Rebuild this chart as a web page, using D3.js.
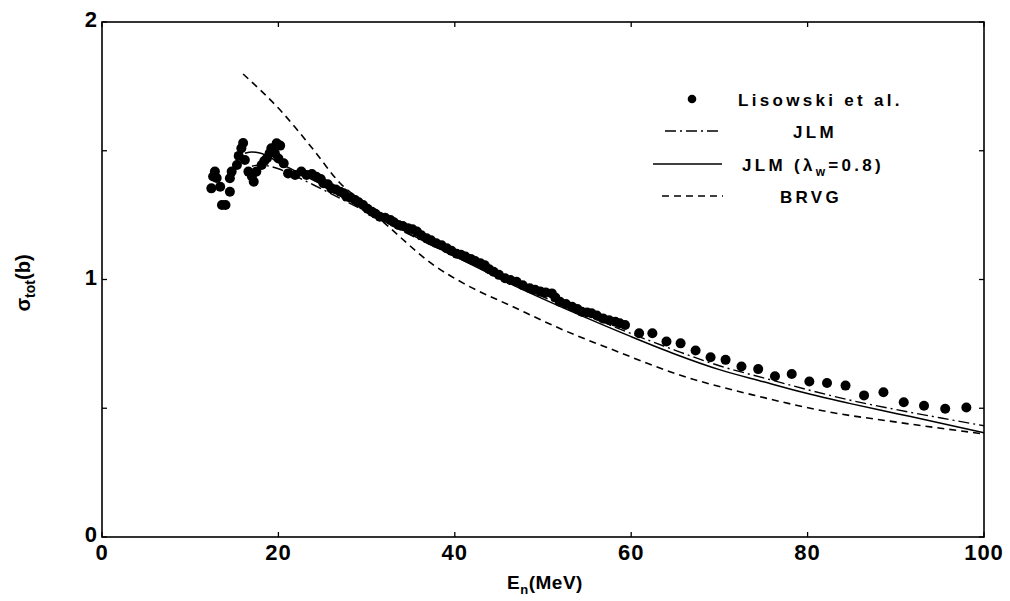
<!DOCTYPE html>
<html>
<head>
<meta charset="utf-8">
<script src="https://cdn.jsdelivr.net/npm/d3@7/dist/d3.min.js"></script>
<style>
  html, body { margin: 0; padding: 0; background: #fff; }
  svg { display: block; }
  text { font-family: "Liberation Sans", Arial, Helvetica, sans-serif; font-weight: bold; fill: #000; }
</style>
</head>
<body>
<svg id="chart" width="1010" height="601"></svg>
<script>
// ---- Data ----
const xTicks = [0, 20, 40, 60, 80, 100];
const yTicks = [0, 0.5, 1, 1.5, 2];
const yTickLabels = ["0", "", "1", "", "2"];

// Lisowski et al. data: energy (MeV), cross section (b)
const lisE = [12.4, 12.6, 12.8, 13.0, 13.4, 13.6, 14.0, 14.5, 14.5, 14.7, 15.3, 15.5, 15.8, 16.0, 16.2, 16.6, 17.0, 17.2, 17.5, 18.1, 18.4, 18.7, 19.0, 19.2, 19.6, 19.8, 20.0, 20.2, 20.6, 21.1,
  21.9, 22.6, 23.2, 23.8, 24.3, 24.8, 25.1, 25.6, 26.0, 26.5, 27.0, 27.4, 27.7, 28.2, 28.7, 29.1, 29.6, 30.1, 30.6, 31.0,
  31.5, 32.1, 32.7, 33.1, 33.6, 34.1, 34.7, 35.2, 35.7, 36.2, 36.8, 37.3, 37.9, 38.5, 39.1, 39.6, 40.2, 40.7, 41.2, 41.8,
  42.3, 42.9, 43.4, 43.9, 44.4, 45.0, 45.7, 46.3, 47.0, 47.7, 48.5, 49.1, 49.7, 50.3, 51.0, 51.4, 51.9, 52.6, 53.3, 53.9,
  54.4, 55.0, 55.5, 56.1, 56.8, 57.5, 58.2, 58.7, 59.3,
  60.9, 62.4, 64.0, 65.6, 67.3, 69.0, 70.7, 72.5, 74.4, 76.3, 78.2, 80.2, 82.2, 84.3, 86.4, 88.6, 90.9, 93.2, 95.6, 98.0];
const lisS = [1.354, 1.40, 1.419, 1.394, 1.360, 1.289, 1.289, 1.341, 1.393, 1.419, 1.445, 1.48, 1.510, 1.53, 1.464, 1.419, 1.40, 1.380, 1.419, 1.445, 1.46, 1.471, 1.49, 1.510, 1.490, 1.529, 1.47, 1.52, 1.451, 1.412,
  1.406, 1.419, 1.406, 1.41, 1.399, 1.39, 1.374, 1.37, 1.354, 1.35, 1.341, 1.335, 1.322, 1.318, 1.309, 1.30, 1.289, 1.275, 1.263, 1.255,
  1.244, 1.240, 1.231, 1.222, 1.212, 1.208, 1.199, 1.195, 1.186, 1.172, 1.160, 1.152, 1.141, 1.133, 1.121, 1.112, 1.100, 1.096, 1.089, 1.080,
  1.072, 1.063, 1.055, 1.040, 1.030, 1.018, 1.005, 0.998, 0.991, 0.978, 0.966, 0.960, 0.953, 0.950, 0.946, 0.930, 0.914, 0.905, 0.894, 0.885,
  0.875, 0.872, 0.869, 0.860, 0.849, 0.842, 0.836, 0.830, 0.823,
  0.791, 0.791, 0.759, 0.752, 0.724, 0.698, 0.688, 0.662, 0.652, 0.624, 0.633, 0.604, 0.598, 0.588, 0.550, 0.562, 0.523, 0.510, 0.498, 0.503];

// JLM (dash-dot)
const jlmE = [17, 18, 19, 20, 22, 24, 26, 28, 30, 35, 40, 45, 50, 55, 60, 65, 70, 75, 80, 85, 90, 95, 100];
const jlmS = [1.44, 1.445, 1.44, 1.43, 1.40, 1.367, 1.333, 1.298, 1.262, 1.172, 1.09, 1.01, 0.933, 0.86, 0.79, 0.725, 0.665, 0.618, 0.572, 0.53, 0.495, 0.463, 0.432];

// JLM (lambda_w = 0.8) (solid)
const jlm08E = [16.2, 17, 18, 19, 20, 22, 24, 26, 28, 30, 32, 35, 40, 45, 50, 55, 60, 65, 70, 75, 80, 85, 90, 95, 100];
const jlm08S = [1.49, 1.495, 1.49, 1.475, 1.455, 1.42, 1.385, 1.35, 1.31, 1.27, 1.232, 1.175, 1.09, 1.005, 0.925, 0.85, 0.778, 0.71, 0.65, 0.603, 0.557, 0.517, 0.48, 0.443, 0.405];

// BRVG (dashed)
const brvgE = [16.0, 20.2, 24.0, 27.0, 28.5, 32.5, 37.6, 41.0, 46.6, 52.3, 58.0, 65.5, 74.6, 82.2, 89.7, 100];
const brvgS = [1.798, 1.658, 1.503, 1.374, 1.328, 1.205, 1.056, 0.985, 0.894, 0.804, 0.726, 0.629, 0.545, 0.487, 0.448, 0.400];

// ---- Chart ----
const svg = d3.select("#chart");
const x = d3.scaleLinear().domain([0, 100]).range([102, 984]);
const y = d3.scaleLinear().domain([0, 2]).range([537, 22]);

// frame
svg.append("rect")
  .attr("x", x(0)).attr("y", y(2))
  .attr("width", x(100) - x(0)).attr("height", y(0) - y(2))
  .attr("fill", "none").attr("stroke", "#000").attr("stroke-width", 1.6);

// ticks (inward) on all sides
const tl = 5;
xTicks.forEach(t => {
  svg.append("line").attr("x1", x(t)).attr("x2", x(t)).attr("y1", y(0)).attr("y2", y(0) - tl)
    .attr("stroke", "#000").attr("stroke-width", 1.3);
  svg.append("line").attr("x1", x(t)).attr("x2", x(t)).attr("y1", y(2)).attr("y2", y(2) + tl)
    .attr("stroke", "#000").attr("stroke-width", 1.3);
});
yTicks.forEach(t => {
  svg.append("line").attr("x1", x(0)).attr("x2", x(0) + tl).attr("y1", y(t)).attr("y2", y(t))
    .attr("stroke", "#000").attr("stroke-width", 1.3);
  svg.append("line").attr("x1", x(100)).attr("x2", x(100) - tl).attr("y1", y(t)).attr("y2", y(t))
    .attr("stroke", "#000").attr("stroke-width", 1.3);
});

// tick labels
svg.selectAll(".xtl").data(xTicks).enter().append("text")
  .attr("x", d => x(d)).attr("y", 560)
  .attr("text-anchor", "middle").attr("font-size", 22).attr("letter-spacing", 1)
  .text(d => d);
svg.selectAll(".ytl").data(yTicks).enter().append("text")
  .attr("x", 97).attr("y", d => y(d) + 5)
  .attr("text-anchor", "end").attr("font-size", 22)
  .text((d, i) => yTickLabels[i]);

// axis titles
const xt = svg.append("text").attr("x", 545).attr("y", 589).attr("text-anchor", "middle").attr("font-size", 19).attr("letter-spacing", 0.5);
xt.append("tspan").text("E");
xt.append("tspan").attr("font-size", 13).attr("dy", 5).text("n");
xt.append("tspan").attr("dy", -5).text("(MeV)");

const yt = svg.append("text").attr("transform", "translate(30,283) rotate(-90)").attr("text-anchor", "middle").attr("font-size", 20);
yt.append("tspan").text("σ");
yt.append("tspan").attr("font-size", 14).attr("dy", 5).text("tot");
yt.append("tspan").attr("dy", -5).text("(b)");

// curves
const line = d3.line().x(d => x(d[0])).y(d => y(d[1])).curve(d3.curveMonotoneX);
const zip = (a, b) => a.map((v, i) => [v, b[i]]);
svg.append("path").datum(zip(brvgE, brvgS)).attr("d", line)
  .attr("fill", "none").attr("stroke", "#000").attr("stroke-width", 1.6).attr("stroke-dasharray", "7,5");
svg.append("path").datum(zip(jlmE, jlmS)).attr("d", line)
  .attr("fill", "none").attr("stroke", "#000").attr("stroke-width", 1.4).attr("stroke-dasharray", "11,4,2,4");
svg.append("path").datum(zip(jlm08E, jlm08S)).attr("d", line)
  .attr("fill", "none").attr("stroke", "#000").attr("stroke-width", 1.5);

// data points
svg.selectAll(".pt").data(zip(lisE, lisS)).enter().append("circle")
  .attr("cx", d => x(d[0])).attr("cy", d => y(d[1])).attr("r", 5).attr("fill", "#000");

// legend
const lg = svg.append("g");
lg.append("circle").attr("cx", 692).attr("cy", 99).attr("r", 4.3).attr("fill", "#000");
lg.append("text").attr("x", 738).attr("y", 106).attr("font-size", 17).attr("letter-spacing", 3.3).text("Lisowski et al.");
lg.append("line").attr("x1", 665).attr("x2", 722).attr("y1", 131).attr("y2", 131)
  .attr("stroke", "#000").attr("stroke-width", 1.4).attr("stroke-dasharray", "11,4,2,4");
lg.append("text").attr("x", 793).attr("y", 138).attr("font-size", 17).attr("letter-spacing", 3.3).text("JLM");
lg.append("line").attr("x1", 653).attr("x2", 722).attr("y1", 164).attr("y2", 164)
  .attr("stroke", "#000").attr("stroke-width", 1.5);
const l3 = lg.append("text").attr("x", 742).attr("y", 171).attr("font-size", 17).attr("letter-spacing", 3.3);
l3.append("tspan").text("JLM (λ");
l3.append("tspan").attr("font-size", 12).attr("dy", 5).text("w");
l3.append("tspan").attr("dy", -5).text("=0.8)");
lg.append("line").attr("x1", 662).attr("x2", 723).attr("y1", 196).attr("y2", 196)
  .attr("stroke", "#000").attr("stroke-width", 1.5).attr("stroke-dasharray", "7,5");
lg.append("text").attr("x", 780).attr("y", 203).attr("font-size", 17).attr("letter-spacing", 3.3).text("BRVG");
</script>
</body>
</html>
